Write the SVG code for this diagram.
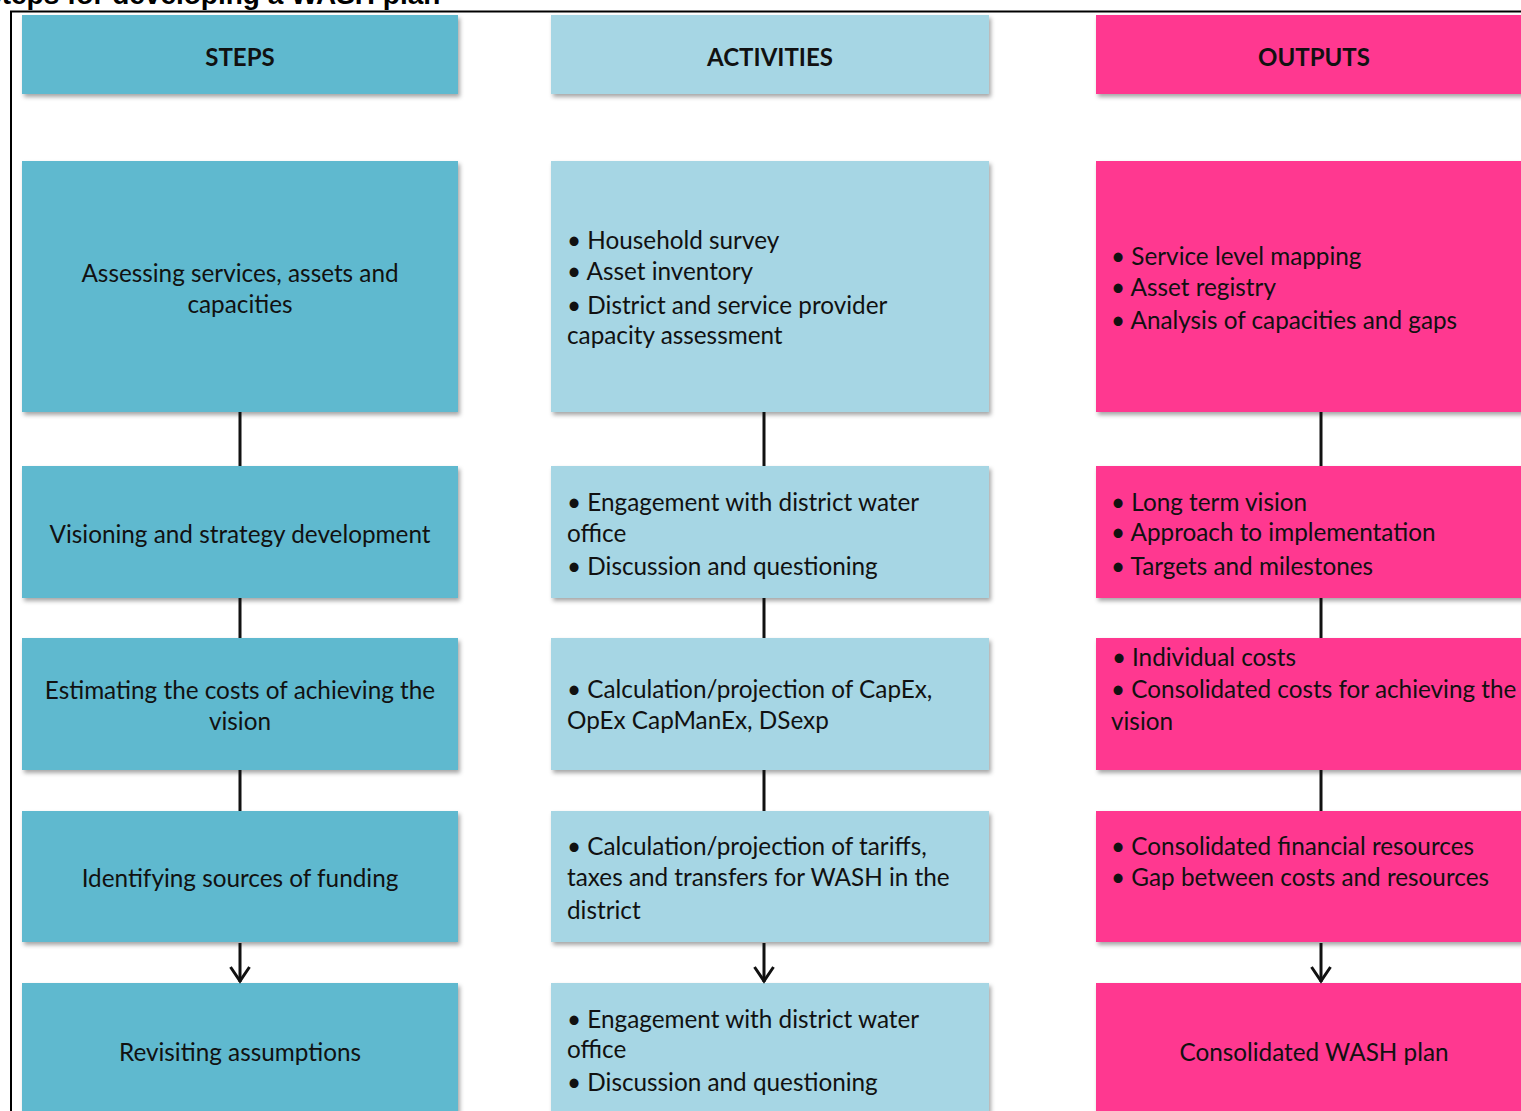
<svg xmlns="http://www.w3.org/2000/svg" width="1521" height="1111" viewBox="0 0 1521 1111">
<style>
.t{font-family:Lato,"Open Sans","Liberation Sans",sans-serif;font-size:24.3px;fill:#111}
.h{font-family:Lato,"Open Sans","Liberation Sans",sans-serif;font-size:24px;font-weight:bold;fill:#111}
.c{text-anchor:middle}
.s{fill:#5FB9CF}
.a{fill:#A6D6E4}
.o{fill:#FF3890}
.ln{stroke:#111;stroke-width:3;fill:none}
</style>
<defs>
<filter id="sh" x="-5%" y="-5%" width="110%" height="115%">
<feDropShadow dx="2" dy="3" stdDeviation="2" flood-color="#000" flood-opacity="0.35"/>
</filter>
<marker id="ar" viewBox="0 0 24 24" refX="21" refY="12" markerWidth="24" markerHeight="24" markerUnits="userSpaceOnUse" orient="auto">
<path d="M6,2.5 L20,12 L6,21.5" fill="none" stroke="#111" stroke-width="3"/>
</marker>
</defs>
<rect width="1521" height="1111" fill="#fff"/>
<text x="-17" y="4" font-family="'Liberation Sans',Arial,sans-serif" font-size="28" font-weight="bold" fill="#000">Steps for developing a WASH plan</text>
<path d="M10,11.5 H1521 M11,11 V1111" stroke="#000" stroke-width="2" fill="none"/>

<g id="h-steps"><rect class="s" x="22" y="15" width="436" height="79" filter="url(#sh)"/><text class="h c" x="240" y="66">STEPS</text></g>
<g id="h-activities"><rect class="a" x="551" y="15" width="438" height="79" filter="url(#sh)"/><text class="h c" x="770" y="66">ACTIVITIES</text></g>
<g id="h-outputs"><rect class="o" x="1096" y="15" width="436" height="79" filter="url(#sh)"/><text class="h c" x="1314" y="66">OUTPUTS</text></g>

<g id="s1"><rect class="s" x="22" y="161" width="436" height="251" filter="url(#sh)"/>
<text class="t c" x="240" y="282">Assessing services, assets and</text><text class="t c" x="240" y="313">capacities</text></g>
<g id="s2"><rect class="s" x="22" y="466" width="436" height="132" filter="url(#sh)"/>
<text class="t c" x="240" y="543">Visioning and strategy development</text></g>
<g id="s3"><rect class="s" x="22" y="638" width="436" height="132" filter="url(#sh)"/>
<text class="t c" x="240" y="699">Estimating the costs of achieving the</text><text class="t c" x="240" y="730">vision</text></g>
<g id="s4"><rect class="s" x="22" y="811" width="436" height="131" filter="url(#sh)"/>
<text class="t c" x="240" y="887">Identifying sources of funding</text></g>
<g id="s5"><rect class="s" x="22" y="983" width="436" height="140" filter="url(#sh)"/>
<text class="t c" x="240" y="1061">Revisiting assumptions</text></g>

<g id="a1"><rect class="a" x="551" y="161" width="438" height="251" filter="url(#sh)"/>
<text class="t" x="567" y="249">• Household survey</text>
<text class="t" x="567" y="280">• Asset inventory</text>
<text class="t" x="567" y="314">• District and service provider</text>
<text class="t" x="567" y="344">capacity assessment</text></g>
<g id="a2"><rect class="a" x="551" y="466" width="438" height="132" filter="url(#sh)"/>
<text class="t" x="567" y="511">• Engagement with district water</text>
<text class="t" x="567" y="542">office</text>
<text class="t" x="567" y="575">• Discussion and questioning</text></g>
<g id="a3"><rect class="a" x="551" y="638" width="438" height="132" filter="url(#sh)"/>
<text class="t" x="567" y="698">• Calculation/projection of CapEx,</text>
<text class="t" x="567" y="729">OpEx CapManEx, DSexp</text></g>
<g id="a4"><rect class="a" x="551" y="811" width="438" height="131" filter="url(#sh)"/>
<text class="t" x="567" y="855">• Calculation/projection of tariffs,</text>
<text class="t" x="567" y="886">taxes and transfers for WASH in the</text>
<text class="t" x="567" y="919">district</text></g>
<g id="a5"><rect class="a" x="551" y="983" width="438" height="140" filter="url(#sh)"/>
<text class="t" x="567" y="1028">• Engagement with district water</text>
<text class="t" x="567" y="1058">office</text>
<text class="t" x="567" y="1091">• Discussion and questioning</text></g>

<g id="o1"><rect class="o" x="1096" y="161" width="436" height="251" filter="url(#sh)"/>
<text class="t" x="1111" y="265">• Service level mapping</text>
<text class="t" x="1111" y="296">• Asset registry</text>
<text class="t" x="1111" y="329">• Analysis of capacities and gaps</text></g>
<g id="o2"><rect class="o" x="1096" y="466" width="436" height="132" filter="url(#sh)"/>
<text class="t" x="1111" y="511">• Long term vision</text>
<text class="t" x="1111" y="541">• Approach to implementation</text>
<text class="t" x="1111" y="575">• Targets and milestones</text></g>
<g id="o3"><rect class="o" x="1096" y="638" width="436" height="132" filter="url(#sh)"/>
<text class="t" x="1112" y="666">•<tspan x="1132">Individual costs</tspan></text>
<text class="t" x="1111" y="698">• Consolidated costs for achieving the</text>
<text class="t" x="1111" y="730">vision</text></g>
<g id="o4"><rect class="o" x="1096" y="811" width="436" height="131" filter="url(#sh)"/>
<text class="t" x="1111" y="855">• Consolidated financial resources</text>
<text class="t" x="1111" y="886">• Gap between costs and resources</text></g>
<g id="o5"><rect class="o" x="1096" y="983" width="436" height="140" filter="url(#sh)"/>
<text class="t c" x="1314" y="1061">Consolidated WASH plan</text></g>

<g id="connectors">
<path class="ln" d="M240,412 V466 M240,598 V638 M240,770 V811"/>
<path class="ln" d="M764,412 V466 M764,598 V638 M764,770 V811"/>
<path class="ln" d="M1321,412 V466 M1321,598 V638 M1321,770 V811"/>
<path class="ln" d="M240,943 V982" marker-end="url(#ar)"/>
<path class="ln" d="M764,943 V982" marker-end="url(#ar)"/>
<path class="ln" d="M1321,943 V982" marker-end="url(#ar)"/>
</g>
</svg>
